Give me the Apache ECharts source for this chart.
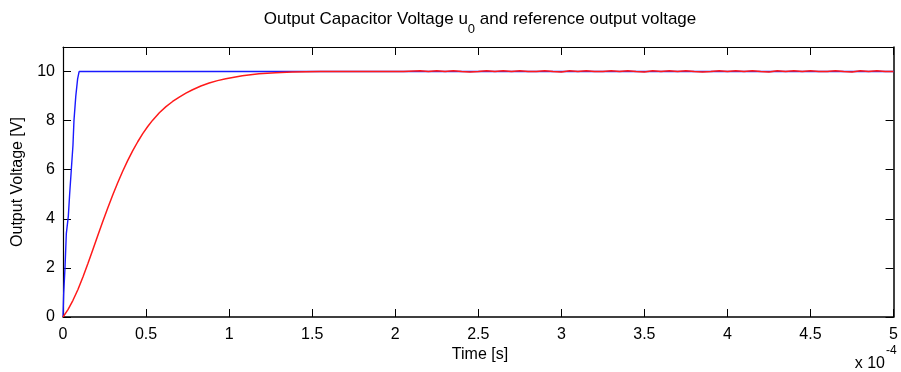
<!DOCTYPE html>
<html>
<head>
<meta charset="utf-8">
<title>Output Capacitor Voltage</title>
<script src="https://cdn.jsdelivr.net/npm/echarts@6/dist/echarts.min.js"></script>
<style>
  html, body { margin: 0; padding: 0; background: #ffffff; }
  #chart { width: 901px; height: 372px; }
</style>
</head>
<body>
<div id="chart"></div>
<script>
// Time axis values are in units of 1e-4 s (the "x 10^-4" multiplier is drawn separately).

// Reference output voltage (blue): fast ramp to 10 V, then constant.
const refTime = [0, 0.004, 0.012, 0.02, 0.032, 0.04, 0.05, 0.06, 0.066, 0.077, 0.088, 0.097, 5];
const refVolt = [0, 0.95, 2.0, 3.4, 4.1, 5.0, 6.0, 7.0, 8.0, 9.0, 9.7, 10, 10];

// Output capacitor voltage u0 (red): smooth rise, settles at 10 V with a small ripple.
const outTime = [
  0, 0.03, 0.06, 0.09, 0.12, 0.15, 0.18, 0.21, 0.24, 0.27, 0.30, 0.33, 0.36, 0.39, 0.42, 0.45,
  0.48, 0.51, 0.54, 0.58, 0.62, 0.66, 0.70, 0.74, 0.78, 0.83, 0.88, 0.93, 0.98, 1.08, 1.18, 1.28,
  1.38, 1.46, 1.55, 1.65, 1.75, 1.85, 1.95, 2.05, 2.15, 2.20, 2.25, 2.30, 2.35, 2.40, 2.45, 2.50,
  2.55, 2.60, 2.65, 2.70, 2.75, 2.80, 2.85, 2.90, 2.95, 3.00, 3.05, 3.10, 3.15, 3.20, 3.25, 3.30,
  3.35, 3.40, 3.45, 3.50, 3.55, 3.60, 3.65, 3.70, 3.75, 3.80, 3.85, 3.90, 3.95, 4.00, 4.05, 4.10,
  4.15, 4.20, 4.25, 4.30, 4.35, 4.40, 4.45, 4.50, 4.55, 4.60, 4.65, 4.70, 4.75, 4.80, 4.85, 4.90,
  4.95, 5.00
];
const outVolt = [
  0, 0.30, 0.68, 1.12, 1.63, 2.18, 2.75, 3.33, 3.90, 4.45, 4.98, 5.48, 5.95, 6.38, 6.78, 7.14,
  7.47, 7.76, 8.02, 8.32, 8.57, 8.78, 8.96, 9.12, 9.26, 9.41, 9.53, 9.63, 9.71, 9.83, 9.91, 9.95,
  9.98, 9.99, 10.0, 10.0, 10.0, 10.0, 10.0, 10.0, 10.03, 10.0, 10.03, 10.0, 10.03, 10.0, 9.98, 10.0,
  10.03, 10.0, 10.03, 10.0, 10.03, 10.0, 10.0, 10.03, 10.0, 9.98, 10.03, 10.0, 10.03, 10.0, 10.0, 10.03,
  10.0, 10.03, 10.0, 9.98, 10.03, 10.0, 10.03, 10.0, 10.03, 10.0, 9.98, 10.0, 10.03, 10.0, 10.03, 10.0,
  10.03, 10.0, 9.98, 10.03, 10.0, 10.03, 10.0, 10.03, 10.0, 10.0, 10.03, 10.0, 9.98, 10.03, 10.0, 10.03,
  10.0, 10.0
];

// Axis ticks
const xTicks = [0, 0.5, 1, 1.5, 2, 2.5, 3, 3.5, 4, 4.5, 5];
const yTicks = [0, 2, 4, 6, 8, 10];

const FONT = 'Liberation Sans, Arial, sans-serif';

function pairs(xs, ys) {
  return xs.map((x, i) => [x, ys[i]]);
}

const chart = echarts.init(document.getElementById('chart'), null, { renderer: 'canvas' });

const frameLine = (w) => ({ show: true, onZero: false, lineStyle: { color: '#000', width: w } });
const innerTicks = { show: true, inside: true, length: 8, lineStyle: { color: '#000', width: 1 } };

chart.setOption({
  animation: false,
  backgroundColor: '#ffffff',
  grid: { left: 63, right: 5, top: 47, bottom: 55, containLabel: false },
  xAxis: [
    {
      type: 'value', position: 'bottom', min: 0, max: 5, interval: 0.5,
      axisLine: frameLine(1.5),
      axisTick: Object.assign({ customValues: xTicks }, innerTicks),
      axisLabel: {
        customValues: xTicks, color: '#000', fontSize: 16, fontFamily: FONT, margin: 10,
        formatter: (v) => String(v)
      },
      splitLine: { show: false }
    },
    {
      type: 'value', position: 'top', min: 0, max: 5, interval: 0.5,
      axisLine: frameLine(1),
      axisTick: Object.assign({ customValues: xTicks }, innerTicks),
      axisLabel: { show: false },
      splitLine: { show: false }
    }
  ],
  yAxis: [
    {
      type: 'value', position: 'left', min: 0, max: 11, interval: 2,
      axisLine: frameLine(1.2),
      axisTick: Object.assign({ customValues: yTicks }, innerTicks),
      axisLabel: {
        customValues: yTicks, color: '#000', fontSize: 16, fontFamily: FONT, margin: 8,
        formatter: (v) => String(v)
      },
      splitLine: { show: false }
    },
    {
      type: 'value', position: 'right', min: 0, max: 11, interval: 2,
      axisLine: frameLine(1.5),
      axisTick: Object.assign({ customValues: yTicks }, innerTicks),
      axisLabel: { show: false },
      splitLine: { show: false }
    }
  ],
  series: [
    {
      name: 'Reference output voltage', type: 'line', xAxisIndex: 0, yAxisIndex: 0,
      data: pairs(refTime, refVolt), showSymbol: false, silent: true,
      lineStyle: { color: '#1a1aff', width: 1.4 }
    },
    {
      name: 'Output capacitor voltage', type: 'line', xAxisIndex: 0, yAxisIndex: 0,
      data: pairs(outTime, outVolt), showSymbol: false, silent: true,
      lineStyle: { color: '#ff1a1a', width: 1.5 }
    }
  ],
  graphic: [
    {
      type: 'text', x: 480, y: 16,
      style: {
        text: '{m|Output Capacitor Voltage u}{s|0}{m| and reference output voltage}',
        align: 'center', verticalAlign: 'top',
        rich: {
          m: { fontSize: 17, fontFamily: FONT, fill: '#000', lineHeight: 20, verticalAlign: 'bottom', padding: [0, 0, 8, 0] },
          s: { fontSize: 13, fontFamily: FONT, fill: '#000', lineHeight: 16, verticalAlign: 'bottom' }
        }
      }
    },
    {
      type: 'text', x: 480, y: 355,
      style: { text: 'Time [s]', fontSize: 16, fontFamily: FONT, fill: '#000', align: 'center', verticalAlign: 'middle' }
    },
    {
      type: 'text', x: 18, y: 182, rotation: Math.PI / 2,
      style: { text: 'Output Voltage [V]', fontSize: 16, fontFamily: FONT, fill: '#000', align: 'center', verticalAlign: 'middle' }
    },
    {
      type: 'text', x: 885, y: 364,
      style: { text: 'x 10', fontSize: 16, fontFamily: FONT, fill: '#000', align: 'right', verticalAlign: 'middle' }
    },
    {
      type: 'text', x: 886, y: 351,
      style: { text: '-4', fontSize: 12, fontFamily: FONT, fill: '#000', align: 'left', verticalAlign: 'middle' }
    }
  ]
});
</script>
</body>
</html>
